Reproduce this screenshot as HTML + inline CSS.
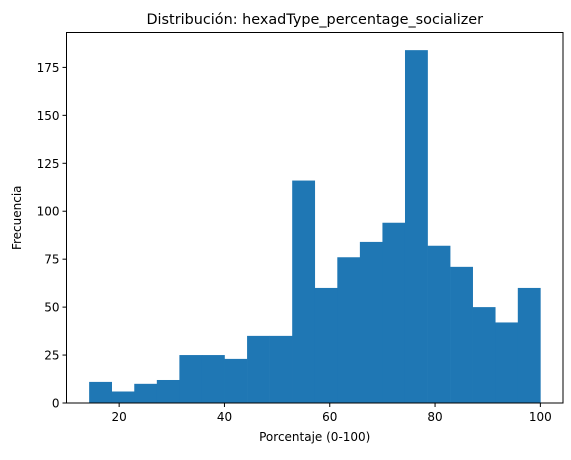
<!DOCTYPE html>
<html><head><meta charset="utf-8"><style>
body{margin:0;background:#fff;width:571px;height:455px;overflow:hidden}
svg text{font-family:"DejaVu Sans","Liberation Sans",sans-serif;fill:#000}
</style></head><body>
<svg id="chart" width="571" height="455"></svg>
<script>
const binStart = 14.3;
const binWidth = 4.285;
const counts = [11, 6, 10, 12, 25, 25, 23, 35, 35, 116, 60, 76, 84, 94, 184, 82, 71, 50, 42, 60];
const xTicks = [20, 40, 60, 80, 100];
const yTicks = [0, 25, 50, 75, 100, 125, 150, 175];

const L = 66.5, R = 563, T = 32.5, B = 403;
const xMin = 10.0, xMax = 104.3, yMax = 193.2;
const xs = v => L + (v - xMin) / (xMax - xMin) * (R - L);
const ys = v => B - v / yMax * (B - T);
const NS = 'http://www.w3.org/2000/svg';
const svg = document.getElementById('chart');
function mk(tag, attrs, parent) {
  const e = document.createElementNS(NS, tag);
  for (const k in attrs) e.setAttribute(k, attrs[k]);
  (parent || svg).appendChild(e);
  return e;
}
const bars = mk('g', {});


counts.forEach((c, i) => {
  const x0 = xs(binStart + i * binWidth), x1 = xs(binStart + (i + 1) * binWidth);
  const r = mk('rect', {x: x0, y: ys(c), width: x1 - x0 + 0.3, height: ys(0) - ys(c), fill: '#1f77b4'}, bars);
  
  
});
const frame = mk('rect', {x: L, y: T, width: R - L, height: B - T, fill: 'none', stroke: '#000', 'stroke-width': 1});


xTicks.forEach(t => {
  const x = xs(t);
  mk('line', {x1: x, x2: x, y1: B, y2: B + 4, stroke: '#000'});
  const tx = mk('text', {x: x, y: B + 18, 'text-anchor': 'middle', 'font-size': 12});
  tx.textContent = t;
  
  
});
yTicks.forEach(t => {
  const y = ys(t);
  mk('line', {x1: L - 4, x2: L, y1: y, y2: y, stroke: '#000'});
  const tx = mk('text', {x: L - 7, y: y + 4.5, 'text-anchor': 'end', 'font-size': 12});
  tx.textContent = t;
  
  
});
const title = mk('text', {x: (L + R) / 2, y: 24, 'text-anchor': 'middle', 'font-size': 14.4});
title.textContent = 'Distribución: hexadType_percentage_socializer';


const xl = mk('text', {x: (L + R) / 2, y: 441, 'text-anchor': 'middle', 'font-size': 12});
xl.textContent = 'Porcentaje (0-100)';


const yl = mk('text', {x: 0, y: 0, 'text-anchor': 'middle', 'font-size': 12, transform: 'translate(21,' + ((T + B) / 2) + ') rotate(-90)'});
yl.textContent = 'Frecuencia';


</script>
</body></html>
